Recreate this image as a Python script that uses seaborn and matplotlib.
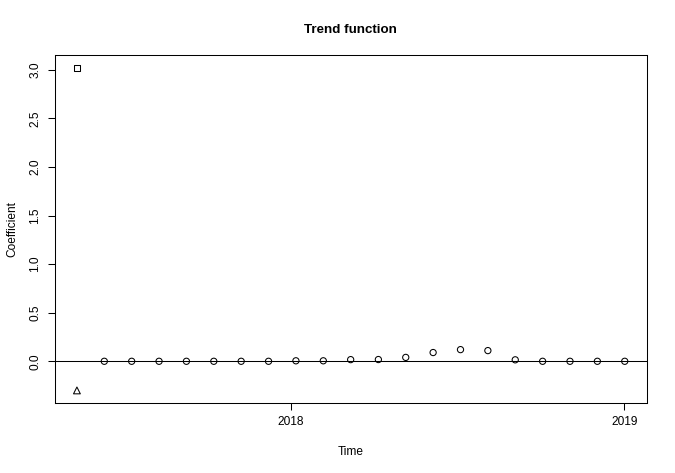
#!/usr/bin/env python3
import matplotlib
matplotlib.use("Agg")
import matplotlib.pyplot as plt
import pandas as pd
import seaborn as sns

# decimal-year positions
level_time = [2017.360]
level_coef = [3.02]

slope_time = [2017.360]
slope_coef = [-0.30]

season_time = [
    2017.442, 2017.524, 2017.606, 2017.688, 2017.770, 2017.852, 2017.934,
    2018.016, 2018.098, 2018.180, 2018.263, 2018.345, 2018.427, 2018.509,
    2018.591, 2018.673, 2018.755, 2018.837, 2018.919, 2019.001,
]
season_coef = [
    0.0, 0.0, 0.0, 0.0, 0.0, 0.0, 0.0,
    0.005, 0.005, 0.017, 0.018, 0.04, 0.09, 0.12,
    0.11, 0.015, 0.0, 0.0, 0.0, 0.0,
]

year_ticks = [2018, 2019]
y_ticks = [0.0, 0.5, 1.0, 1.5, 2.0, 2.5, 3.0]


def main() -> None:
    sns.set_style("white")
    plt.rcParams["font.family"] = ["Liberation Sans", "DejaVu Sans"]
    plt.rcParams["text.color"] = "black"
    plt.rcParams["axes.labelcolor"] = "black"

    df = pd.concat([
        pd.DataFrame({"time": level_time, "coef": level_coef, "term": "level"}),
        pd.DataFrame({"time": slope_time, "coef": slope_coef, "term": "slope"}),
        pd.DataFrame({"time": season_time, "coef": season_coef, "term": "season"}),
    ], ignore_index=True)
    markers = {"level": "s", "slope": "^", "season": "o"}
    sizes = {"level": 18, "slope": 24, "season": 20}

    fig = plt.figure(figsize=(6.75, 4.73), dpi=100)
    ax = fig.add_axes([0.0815, 0.1473, 0.8765, 0.7364])

    ax.axhline(0, color="black", lw=0.75, zorder=0)
    for term, sub in df.groupby("term"):
        sns.scatterplot(
            data=sub, x="time", y="coef", marker=markers[term], s=sizes[term],
            facecolor="none", edgecolor="black", linewidth=0.75, ax=ax,
            legend=False,
        )

    ax.margins(x=0.04, y=0.04)
    ax.set_xticks(year_ticks)
    ax.set_xticklabels([str(y) for y in year_ticks])
    ax.set_yticks(y_ticks)
    ax.set_yticklabels([f"{v:.1f}" for v in y_ticks], rotation=90, va="center")
    ax.tick_params(bottom=True, left=True, direction="out", length=5, width=0.75,
                   labelsize=8.6, color="black", labelcolor="black", pad=4)
    ax.tick_params(axis="y", pad=5)
    for spine in ax.spines.values():
        spine.set_color("black")
        spine.set_linewidth(0.75)

    ax.set_xlabel("Time", fontsize=8.6, labelpad=13)
    ax.set_ylabel("Coefficient", fontsize=8.6, labelpad=8)
    ax.set_title("Trend function", fontsize=9.6, fontweight="bold", pad=16,
                 color="black")

    fig.savefig("out.png", dpi=100)
    plt.close(fig)


if __name__ == "__main__":
    main()
